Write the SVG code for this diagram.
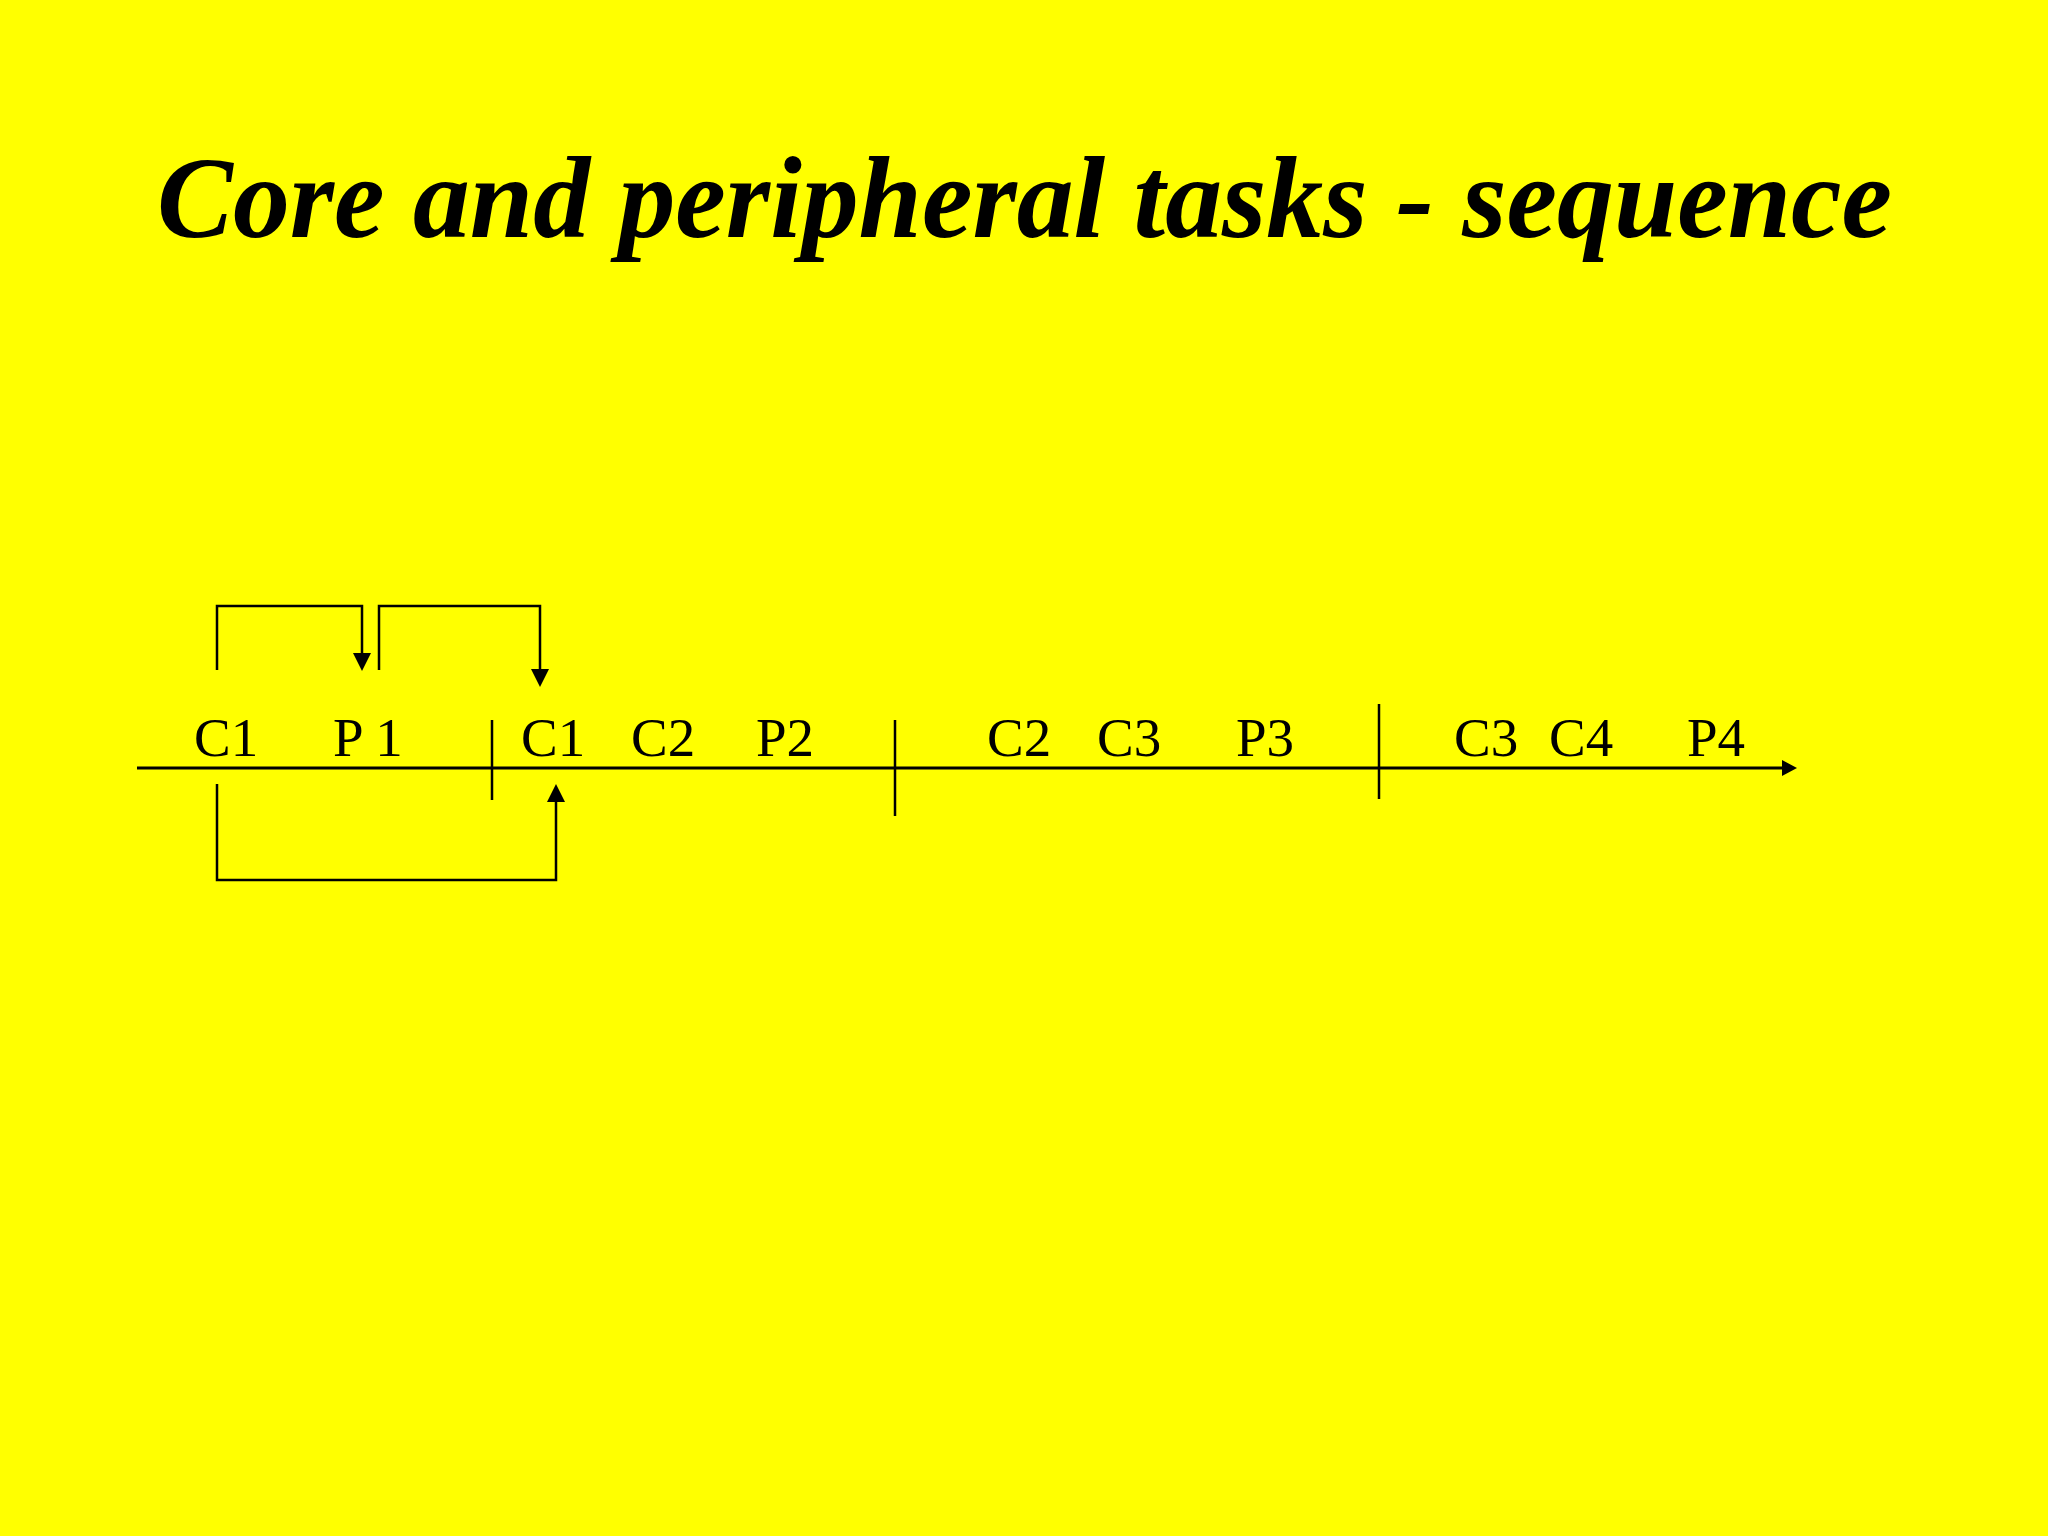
<svg xmlns="http://www.w3.org/2000/svg" width="2048" height="1536" viewBox="0 0 2048 1536">
<style>
.lbl{font-family:"Liberation Serif","Times New Roman",serif;font-size:55px;fill:#000}
.ttl{font-family:"Liberation Serif","Times New Roman",serif;font-size:117px;font-weight:bold;font-style:italic;fill:#000}
.ln{stroke:#000;stroke-width:2.5;fill:none}
.ax{stroke:#000;stroke-width:3;fill:none}
.ah{fill:#000}
</style>
<rect width="2048" height="1536" fill="#ffff00"/>
<text class="ttl" x="157" y="237" textLength="1735" lengthAdjust="spacingAndGlyphs">Core and peripheral tasks - sequence</text>
<g id="axis">
<line class="ax" x1="137" y1="768" x2="1784" y2="768"/>
<polygon class="ah" points="1797,768 1782,760 1782,776"/>
<line class="ln" x1="492" y1="720" x2="492" y2="800"/>
<line class="ln" x1="895" y1="720" x2="895" y2="816"/>
<line class="ln" x1="1379" y1="704" x2="1379" y2="799"/>
</g>
<g id="labels">
<text class="lbl" x="194" y="756">C1</text>
<text class="lbl" x="333" y="756">P 1</text>
<text class="lbl" x="521" y="756">C1</text>
<text class="lbl" x="631" y="756">C2</text>
<text class="lbl" x="756" y="756">P2</text>
<text class="lbl" x="987" y="756">C2</text>
<text class="lbl" x="1097" y="756">C3</text>
<text class="lbl" x="1236" y="756">P3</text>
<text class="lbl" x="1454" y="756">C3</text>
<text class="lbl" x="1549" y="756">C4</text>
<text class="lbl" x="1687" y="756">P4</text>
</g>
<g id="connectors">
<polyline class="ln" points="217,670 217,606 362,606 362,654"/>
<polygon class="ah" points="362,671 353,653 371,653"/>
<polyline class="ln" points="379,670 379,606 540,606 540,670"/>
<polygon class="ah" points="540,687 531,669 549,669"/>
<polyline class="ln" points="217,784 217,880 556,880 556,800"/>
<polygon class="ah" points="556,784 547,802 565,802"/>
</g>
</svg>
